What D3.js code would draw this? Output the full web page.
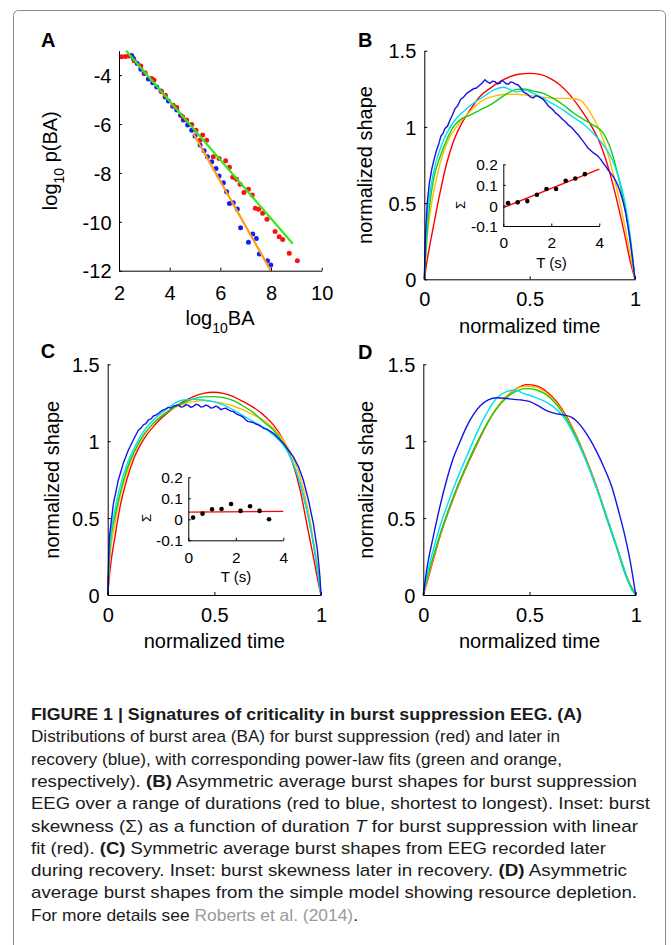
<!DOCTYPE html>
<html><head><meta charset="utf-8">
<script src="https://cdn.jsdelivr.net/npm/d3@7"></script>
<style>
html,body{margin:0;padding:0;background:#fff;}
svg{display:block;}
</style></head><body>
<svg id="fig" width="671" height="945"></svg>
<script>
// ---------------- DATA ----------------
// Panel A: log10 p(BA) vs log10 BA
const redDotsA = [[2.10,-3.25],[2.25,-3.24],[2.39,-3.22],[2.60,-3.41],[2.86,-3.63],[3.03,-3.90],[3.29,-4.14],[3.38,-4.20],[3.68,-4.68],[3.83,-4.82],[4.14,-5.23],[4.28,-5.32],[4.51,-5.70],[4.67,-5.84],[4.87,-6.02],[5.04,-6.25],[5.20,-6.66],[5.30,-6.45],[5.46,-6.66],[5.72,-7.34],[5.95,-7.41],[6.21,-7.50],[6.36,-7.77],[6.49,-8.18],[6.64,-8.26],[6.78,-8.46],[6.93,-8.80],[7.11,-8.67],[7.26,-8.90],[7.38,-9.45],[7.51,-9.49],[7.67,-9.65],[7.84,-9.90],[8.16,-10.40],[8.32,-10.61],[8.46,-10.72],[8.72,-11.29],[9.04,-11.59]];
const blueDotsA = [[2.50,-3.20],[2.57,-3.32],[2.72,-3.52],[2.86,-3.76],[2.99,-3.93],[3.16,-4.16],[3.33,-4.31],[3.49,-4.48],[3.66,-4.65],[3.82,-4.89],[3.95,-5.06],[4.12,-5.27],[4.28,-5.43],[4.43,-5.64],[4.54,-5.84],[4.71,-6.04],[4.87,-6.25],[5.00,-6.49],[5.20,-6.86],[5.36,-7.09],[5.49,-7.34],[5.66,-7.54],[5.83,-7.82],[5.95,-8.13],[6.12,-8.40],[6.25,-8.77],[6.36,-9.25],[6.51,-9.22],[6.67,-9.48],[6.80,-10.24],[7.11,-10.84],[7.28,-10.50],[7.42,-10.68],[7.54,-11.32],[7.86,-11.59],[7.99,-11.77]];
const greenFitA = [[2.28,-3.0],[8.86,-10.9]];
const orangeFitA = [[4.93,-6.38],[7.99,-12.0]];
const xTicksA = [2,4,6,8,10];
const yTicksA = [-4,-6,-8,-10,-12];

// Panel B: burst suppression average shapes [normalized time, normalized shape]
const redB = [[0,0],[0.014,0.13],[0.043,0.345],[0.074,0.564],[0.106,0.76],[0.138,0.903],[0.169,1.0],[0.217,1.11],[0.264,1.2],[0.312,1.253],[0.359,1.297],[0.407,1.33],[0.454,1.347],[0.5,1.351],[0.549,1.345],[0.597,1.318],[0.644,1.275],[0.691,1.21],[0.739,1.122],[0.786,1.023],[0.834,0.892],[0.881,0.695],[0.921,0.477],[0.953,0.28],[0.976,0.127],[1,0]];
const yellowB = [[0,0],[0.014,0.28],[0.035,0.5],[0.059,0.67],[0.090,0.83],[0.122,0.936],[0.153,1.0],[0.201,1.078],[0.248,1.144],[0.296,1.187],[0.343,1.205],[0.391,1.214],[0.438,1.214],[0.486,1.207],[0.533,1.2],[0.581,1.192],[0.628,1.187],[0.676,1.187],[0.707,1.185],[0.739,1.175],[0.771,1.13],[0.802,1.06],[0.834,0.97],[0.866,0.85],[0.897,0.69],[0.929,0.5],[0.960,0.29],[0.984,0.12],[1,0]];
const greenB = [[0,0],[0.014,0.32],[0.043,0.65],[0.074,0.8],[0.106,0.914],[0.138,1.0],[0.169,1.045],[0.217,1.078],[0.264,1.11],[0.312,1.144],[0.359,1.187],[0.407,1.23],[0.438,1.246],[0.470,1.249],[0.517,1.235],[0.565,1.22],[0.612,1.187],[0.660,1.144],[0.707,1.093],[0.755,1.05],[0.802,1.012],[0.850,0.958],[0.881,0.87],[0.913,0.717],[0.945,0.52],[0.968,0.345],[0.987,0.15],[1,0]];
const cyanB = [[0,0],[0.014,0.39],[0.043,0.695],[0.074,0.85],[0.106,0.958],[0.146,1.045],[0.185,1.1],[0.233,1.155],[0.280,1.198],[0.328,1.242],[0.375,1.26],[0.407,1.246],[0.438,1.23],[0.478,1.242],[0.517,1.22],[0.565,1.187],[0.612,1.15],[0.660,1.11],[0.707,1.063],[0.755,1.019],[0.802,0.958],[0.850,0.881],[0.889,0.794],[0.921,0.674],[0.953,0.5],[0.976,0.302],[1,0]];
const blueB = [[0,0],[0.006,0.30],[0.014,0.50],[0.024,0.63],[0.035,0.72],[0.047,0.79],[0.059,0.85],[0.069,0.89],[0.079,0.94],[0.088,0.955],[0.098,0.99],[0.110,1.005],[0.122,1.045],[0.134,1.08],[0.146,1.12],[0.159,1.14],[0.172,1.18],[0.186,1.195],[0.201,1.22],[0.217,1.235],[0.233,1.25],[0.248,1.255],[0.264,1.275],[0.276,1.29],[0.288,1.31],[0.300,1.295],[0.312,1.286],[0.323,1.30],[0.335,1.297],[0.347,1.282],[0.359,1.286],[0.367,1.305],[0.375,1.30],[0.387,1.285],[0.399,1.28],[0.410,1.295],[0.422,1.29],[0.434,1.28],[0.446,1.275],[0.458,1.255],[0.470,1.23],[0.482,1.22],[0.494,1.21],[0.505,1.195],[0.517,1.19],[0.529,1.205],[0.541,1.20],[0.553,1.19],[0.565,1.18],[0.577,1.16],[0.589,1.137],[0.600,1.125],[0.612,1.11],[0.624,1.09],[0.636,1.078],[0.648,1.06],[0.660,1.045],[0.672,1.03],[0.684,1.012],[0.696,1.0],[0.707,0.984],[0.719,0.965],[0.731,0.947],[0.743,0.925],[0.755,0.903],[0.767,0.88],[0.778,0.86],[0.790,0.845],[0.802,0.83],[0.814,0.82],[0.826,0.805],[0.838,0.785],[0.850,0.761],[0.862,0.74],[0.873,0.717],[0.885,0.695],[0.897,0.674],[0.909,0.645],[0.921,0.608],[0.933,0.56],[0.945,0.50],[0.955,0.44],[0.964,0.367],[0.972,0.30],[0.979,0.236],[0.990,0.12],[1,0]];

// Panel C: later in recovery
const redC = [[0,0],[0.011,0.163],[0.034,0.38],[0.058,0.574],[0.089,0.748],[0.12,0.878],[0.167,1.008],[0.214,1.095],[0.261,1.16],[0.308,1.214],[0.355,1.257],[0.402,1.29],[0.448,1.311],[0.495,1.318],[0.542,1.311],[0.589,1.29],[0.636,1.257],[0.683,1.22],[0.73,1.171],[0.777,1.106],[0.823,1.008],[0.863,0.878],[0.902,0.683],[0.933,0.466],[0.964,0.249],[0.988,0.076],[1,0]];
const yellowC = [[0,0],[0.011,0.249],[0.034,0.466],[0.058,0.64],[0.089,0.79],[0.12,0.91],[0.167,1.03],[0.214,1.116],[0.261,1.177],[0.308,1.214],[0.355,1.242],[0.402,1.257],[0.448,1.264],[0.495,1.257],[0.542,1.246],[0.589,1.229],[0.636,1.203],[0.683,1.171],[0.73,1.138],[0.777,1.084],[0.823,1.008],[0.863,0.91],[0.902,0.77],[0.933,0.596],[0.964,0.358],[0.988,0.141],[1,0]];
const greenC = [[0,0],[0.011,0.314],[0.034,0.51],[0.058,0.66],[0.089,0.813],[0.12,0.92],[0.167,1.04],[0.214,1.116],[0.261,1.17],[0.308,1.218],[0.355,1.25],[0.402,1.275],[0.448,1.288],[0.495,1.29],[0.542,1.283],[0.589,1.264],[0.636,1.229],[0.683,1.186],[0.73,1.127],[0.777,1.073],[0.823,0.986],[0.863,0.878],[0.902,0.726],[0.933,0.553],[0.964,0.336],[0.988,0.119],[1,0]];
const cyanC = [[0,0],[0.011,0.336],[0.034,0.553],[0.058,0.705],[0.089,0.845],[0.12,0.943],[0.167,1.062],[0.214,1.138],[0.261,1.192],[0.308,1.242],[0.355,1.268],[0.402,1.272],[0.448,1.268],[0.495,1.257],[0.542,1.236],[0.589,1.203],[0.636,1.164],[0.683,1.127],[0.73,1.09],[0.777,1.04],[0.823,0.976],[0.863,0.878],[0.902,0.726],[0.933,0.553],[0.964,0.336],[0.988,0.119],[1,0]];
const blueC = [[0,0],[0.008,0.38],[0.027,0.596],[0.05,0.748],[0.073,0.856],[0.097,0.943],[0.12,1.008],[0.144,1.073],[0.156,1.085],[0.167,1.106],[0.179,1.115],[0.191,1.138],[0.203,1.145],[0.214,1.164],[0.226,1.17],[0.238,1.181],[0.25,1.195],[0.261,1.203],[0.273,1.21],[0.284,1.22],[0.296,1.215],[0.308,1.229],[0.32,1.232],[0.331,1.236],[0.343,1.222],[0.355,1.225],[0.367,1.238],[0.378,1.233],[0.39,1.22],[0.402,1.227],[0.413,1.24],[0.425,1.236],[0.437,1.222],[0.448,1.225],[0.46,1.235],[0.472,1.229],[0.484,1.215],[0.495,1.218],[0.507,1.228],[0.519,1.22],[0.531,1.205],[0.542,1.212],[0.554,1.215],[0.566,1.203],[0.578,1.196],[0.589,1.192],[0.601,1.18],[0.613,1.171],[0.625,1.165],[0.636,1.155],[0.648,1.138],[0.659,1.127],[0.671,1.125],[0.683,1.121],[0.694,1.112],[0.706,1.106],[0.718,1.097],[0.73,1.084],[0.742,1.08],[0.753,1.073],[0.765,1.062],[0.777,1.051],[0.789,1.035],[0.8,1.019],[0.823,0.986],[0.847,0.943],[0.87,0.9],[0.894,0.835],[0.917,0.748],[0.941,0.618],[0.964,0.466],[0.983,0.293],[0.995,0.119],[1,0]];

// Panel D: simple model
const redD = [[0,0],[0.016,0.076],[0.047,0.228],[0.078,0.379],[0.11,0.509],[0.157,0.683],[0.204,0.835],[0.251,0.975],[0.298,1.106],[0.345,1.214],[0.392,1.29],[0.44,1.344],[0.487,1.368],[0.534,1.359],[0.581,1.322],[0.628,1.257],[0.675,1.16],[0.722,1.03],[0.769,0.878],[0.816,0.705],[0.863,0.509],[0.911,0.314],[0.958,0.119],[1,0]];
const yellowD = [[0,0],[0.016,0.087],[0.047,0.238],[0.078,0.386],[0.11,0.516],[0.157,0.689],[0.204,0.841],[0.251,0.982],[0.298,1.11],[0.345,1.216],[0.392,1.294],[0.44,1.342],[0.487,1.357],[0.534,1.351],[0.581,1.311],[0.628,1.246],[0.675,1.151],[0.722,1.025],[0.769,0.874],[0.816,0.7],[0.863,0.505],[0.911,0.31],[0.958,0.115],[1,0]];
const greenD = [[0,0],[0.016,0.098],[0.047,0.249],[0.078,0.39],[0.11,0.52],[0.157,0.694],[0.204,0.845],[0.251,0.986],[0.298,1.11],[0.345,1.212],[0.392,1.283],[0.44,1.327],[0.487,1.342],[0.534,1.333],[0.581,1.3],[0.628,1.236],[0.675,1.142],[0.722,1.019],[0.769,0.867],[0.816,0.694],[0.863,0.499],[0.911,0.303],[0.958,0.108],[1,0]];
const cyanD = [[0,0],[0.016,0.119],[0.047,0.293],[0.078,0.444],[0.11,0.574],[0.157,0.748],[0.204,0.9],[0.251,1.051],[0.298,1.181],[0.345,1.279],[0.392,1.322],[0.432,1.333],[0.471,1.311],[0.518,1.29],[0.565,1.264],[0.612,1.225],[0.659,1.16],[0.706,1.051],[0.754,0.91],[0.801,0.748],[0.848,0.574],[0.895,0.379],[0.942,0.184],[0.981,0.033],[1,0]];
const blueD = [[0,0],[0.016,0.163],[0.047,0.379],[0.078,0.574],[0.11,0.748],[0.141,0.889],[0.173,0.997],[0.204,1.095],[0.235,1.171],[0.267,1.229],[0.306,1.268],[0.345,1.283],[0.385,1.279],[0.424,1.272],[0.463,1.268],[0.502,1.257],[0.542,1.229],[0.581,1.199],[0.62,1.181],[0.659,1.171],[0.699,1.155],[0.738,1.106],[0.777,1.03],[0.816,0.932],[0.856,0.813],[0.887,0.705],[0.918,0.553],[0.95,0.379],[0.973,0.228],[0.989,0.098],[1,0]];

const shapeXTicks = [0,0.5,1];
const shapeYTicks = [0,0.5,1,1.5];

// Insets: skewness vs duration
const durT = [0.2,0.6,1.0,1.4,1.8,2.2,2.6,3.0,3.4];
const skewB = [0.011,0.015,0.021,0.052,0.080,0.080,0.120,0.131,0.152];
const skewC = [0.008,0.027,0.048,0.049,0.073,0.040,0.062,0.040,0.000];
const fitB = [[0,-0.011],[4,0.177]];
const fitC = [[0,0.034],[4,0.038]];
const insetXTicks = [0,2,4];
const insetYTicks = [-0.1,0,0.1,0.2];

// Caption
const captionLines = [
  [["FIGURE 1 | Signatures of criticality in burst suppression EEG. (A)","b"]],
  [["Distributions of burst area (BA) for burst suppression (red) and later in",""]],
  [["recovery (blue), with corresponding power-law fits (green and orange,",""]],
  [["respectively). ",""],["(B)","b"],[" Asymmetric average burst shapes for burst suppression",""]],
  [["EEG over a range of durations (red to blue, shortest to longest). Inset: burst",""]],
  [["skewness (\u03A3) as a function of duration ",""],["T","i"],[" for burst suppression with linear",""]],
  [["fit (red). ",""],["(C)","b"],[" Symmetric average burst shapes from EEG recorded later",""]],
  [["during recovery. Inset: burst skewness later in recovery. ",""],["(D)","b"],[" Asymmetric",""]],
  [["average burst shapes from the simple model showing resource depletion.",""]],
  [["For more details see ",""],["Roberts et al. (2014)","g"],[".",""]]
];
const captionWidths = [551,529,531,606,619,607,575,596,606,327];

// ---------------- DRAWING ----------------
const FONT = '"Liberation Sans", Arial, Helvetica, sans-serif';
const COL = {red:'#ff0000', yellow:'#ffbb00', green:'#10d010', cyan:'#00e0f0', blue:'#1414e6'};
const svg = d3.select('#fig').attr('font-family', FONT);

svg.append('rect').attr('x',13.5).attr('y',10.5).attr('width',652).attr('height',960)
  .attr('rx',5).attr('fill','none').attr('stroke','#8a8a8a').attr('stroke-width',1);

function drawAxes(x, y, o) {
  const gx = svg.append('g').attr('transform', `translate(0,${y.range()[0]})`)
    .call(d3.axisBottom(x).tickValues(o.xt).tickFormat(d => String(d)).tickSizeInner(-o.tick).tickSizeOuter(0));
  const gy = svg.append('g').attr('transform', `translate(${x.range()[0]},0)`)
    .call(d3.axisLeft(y).tickValues(o.yt).tickFormat(d => String(d)).tickSizeInner(-o.tick).tickSizeOuter(0));
  [gx, gy].forEach(g => {
    g.attr('font-family', FONT).attr('font-size', o.fs);
    g.select('.domain').attr('stroke', '#000').attr('stroke-width', 1);
    g.selectAll('.tick line').attr('stroke', '#000');
    g.selectAll('.tick text').attr('fill', '#000');
  });
  gx.selectAll('.tick text').attr('y', o.xoff).attr('dy', null);
  gy.selectAll('.tick text').attr('x', -o.ypad).attr('dy', '0.36em');
}

function panelLetter(txt, x, y) {
  svg.append('text').attr('x', x).attr('y', y).attr('font-size', 20).attr('font-weight', 'bold').text(txt);
}
function yTitle(txt, x, y) {
  svg.append('text').attr('transform', `translate(${x},${y}) rotate(-90)`)
    .attr('text-anchor', 'middle').attr('font-size', 20).text(txt);
}
function xTitle(txt, x, y) {
  svg.append('text').attr('x', x).attr('y', y).attr('text-anchor', 'middle').attr('font-size', 20).text(txt);
}

// ---- Panel A ----
const xA = d3.scaleLinear().domain([2,10]).range([119,321.7]);
const yA = d3.scaleLinear().domain([-12,-3]).range([270.7,50.7]);
const gA = svg.append('g');
gA.selectAll('circle.b').data(blueDotsA).join('circle').attr('class','b')
  .attr('cx', d => xA(d[0])).attr('cy', d => yA(d[1])).attr('r', 2.5).attr('fill', '#1020ff');
gA.selectAll('circle.r').data(redDotsA).join('circle').attr('class','r')
  .attr('cx', d => xA(d[0])).attr('cy', d => yA(d[1])).attr('r', 2.5).attr('fill', '#ff1010');
const lineA = d3.line().x(d => xA(d[0])).y(d => yA(d[1]));
gA.append('path').datum(greenFitA).attr('d', lineA).attr('fill','none').attr('stroke','#33e81a').attr('stroke-width',2.2);
gA.append('path').datum(orangeFitA).attr('d', lineA).attr('fill','none').attr('stroke','#ff9a1a').attr('stroke-width',2.2);
drawAxes(xA, yA, {xt: xTicksA, yt: yTicksA, fs: 20, tick: 3, xoff: 29.5, ypad: 7.5});
panelLetter('A', 41, 46.7);
const tyA = svg.append('text').attr('transform', 'translate(57,160.7) rotate(-90)')
  .attr('text-anchor', 'middle').attr('font-size', 20);
tyA.append('tspan').text('log');
tyA.append('tspan').attr('font-size', 14).attr('dy', 7).text('10');
tyA.append('tspan').attr('dy', -7).text(' p(BA)');
const txA = svg.append('text').attr('x', 220).attr('y', 325).attr('text-anchor', 'middle').attr('font-size', 20);
txA.append('tspan').text('log');
txA.append('tspan').attr('font-size', 14).attr('dy', 8).text('10');
txA.append('tspan').attr('dy', -8).text('BA');

// ---- Shape panels ----
function shapePanel(xr, yr, series) {
  const x = d3.scaleLinear().domain([0,1]).range(xr);
  const y = d3.scaleLinear().domain([0,1.5]).range(yr);
  const g = svg.append('g');
  series.forEach(s => {
    const ln = d3.line().x(d => x(d[0])).y(d => y(d[1])).curve(s.noisy ? d3.curveLinear : d3.curveMonotoneX);
    g.append('path').datum(s.data).attr('d', ln).attr('fill','none')
      .attr('stroke', s.color).attr('stroke-width', 1.4).attr('stroke-linejoin','round');
  });
  drawAxes(x, y, {xt: shapeXTicks, yt: shapeYTicks, fs: 20, tick: 3, xoff: 26.7, ypad: 8});
  return {x, y};
}

shapePanel([424.3,635], [279.3,50.7], [
  {data: redB, color: COL.red}, {data: yellowB, color: COL.yellow}, {data: greenB, color: COL.green},
  {data: cyanB, color: COL.cyan}, {data: blueB, color: COL.blue, noisy: true}]);
panelLetter('B', 358, 46.7);
yTitle('normalized shape', 372, 165);
xTitle('normalized time', 529.7, 332.6);

shapePanel([107.7,321], [595,364.3], [
  {data: redC, color: COL.red}, {data: yellowC, color: COL.yellow}, {data: greenC, color: COL.green},
  {data: cyanC, color: COL.cyan}, {data: blueC, color: COL.blue, noisy: true}]);
panelLetter('C', 40.7, 358.3);
yTitle('normalized shape', 58.5, 479.7);
xTitle('normalized time', 214.3, 648.3);

shapePanel([423.3,635.7], [595,364.3], [
  {data: redD, color: COL.red}, {data: yellowD, color: COL.yellow}, {data: greenD, color: COL.green},
  {data: cyanD, color: COL.cyan}, {data: blueD, color: COL.blue}]);
panelLetter('D', 358, 359);
yTitle('normalized shape', 373, 479.7);
xTitle('normalized time', 529.5, 648.3);

// ---- Insets ----
function inset(xr, yr, skew, fit, sig, tl, xoff) {
  const x = d3.scaleLinear().domain([0,4]).range(xr);
  const y = d3.scaleLinear().domain([-0.1,0.2]).range(yr);
  const g = svg.append('g');
  g.append('path').datum(fit).attr('d', d3.line().x(d => x(d[0])).y(d => y(d[1])))
    .attr('fill','none').attr('stroke','#ff0000').attr('stroke-width',1.3);
  g.selectAll('circle').data(durT.map((t,i) => [t, skew[i]])).join('circle')
    .attr('cx', d => x(d[0])).attr('cy', d => y(d[1])).attr('r', 2.3).attr('fill', '#000');
  drawAxes(x, y, {xt: insetXTicks, yt: insetYTicks, fs: 15.5, tick: 2.5, xoff: xoff, ypad: 5.5});
  svg.append('text').attr('transform', `translate(${sig[0]},${sig[1]}) rotate(-90)`)
    .attr('text-anchor','middle').attr('font-size', 13).text('\u03A3');
  svg.append('text').attr('x', tl[0]).attr('y', tl[1]).attr('text-anchor','middle').attr('font-size', 15).text('T (s)');
}
inset([503.3,599.3], [226,164.3], skewB, fitB, [465,205], [551.5,268.3], 21.7);
inset([188.3,283.3], [540.3,477.3], skewC, fitC, [151,518], [236,582.3], 22.3);

// ---- Caption ----
const capG = svg.append('g').attr('font-size', 17).attr('fill', '#1a1a1a');
captionLines.forEach((segs, i) => {
  const t = capG.append('text').attr('x', 31).attr('y', 720 + i * 22.3)
    .attr('textLength', captionWidths[i]).attr('lengthAdjust', 'spacingAndGlyphs');
  segs.forEach(s => {
    const sp = t.append('tspan').text(s[0]);
    if (s[1] === 'b') sp.attr('font-weight', 'bold');
    if (s[1] === 'i') sp.attr('font-style', 'italic');
    if (s[1] === 'g') sp.attr('fill', '#9a9a9a');
  });
});
</script>
</body></html>
